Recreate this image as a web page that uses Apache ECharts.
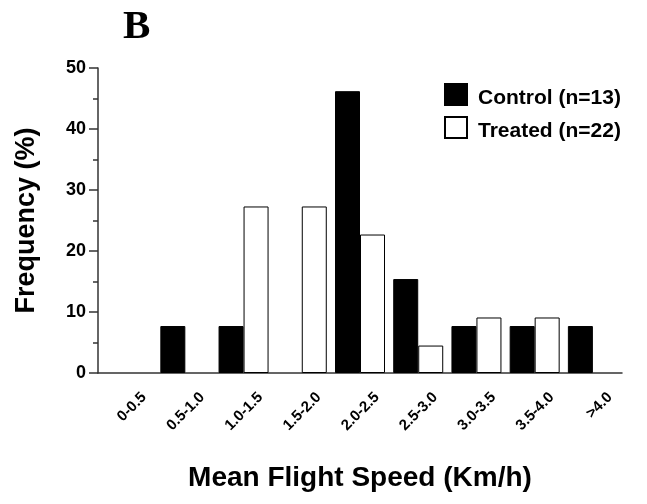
<!DOCTYPE html>
<html>
<head>
<meta charset="utf-8">
<script src="https://cdn.jsdelivr.net/npm/echarts@6/dist/echarts.min.js"></script>
<style>
  html, body { margin: 0; padding: 0; background: #fff; }
  #chart { width: 647px; height: 504px; }
</style>
</head>
<body>
<div id="chart"></div>
<script>
// speed classes (Km/h)
const speedBins = ['0-0.5', '0.5-1.0', '1.0-1.5', '1.5-2.0', '2.0-2.5', '2.5-3.0', '3.0-3.5', '3.5-4.0', '>4.0'];
// frequency in %
const controlFreq = [0, 7.7, 7.7, 0, 46.2, 15.4, 7.7, 7.7, 7.7];
const treatedFreq = [0, 0, 27.3, 27.3, 22.7, 4.5, 9.1, 9.1, 0];
const yTicks = [0, 10, 20, 30, 40, 50];

const font = '"Liberation Sans", Arial, sans-serif';
const chart = echarts.init(document.getElementById('chart'));

// empty bins draw nothing
const bars = arr => arr.map(v => (v === 0 ? null : v));

chart.setOption({
  animation: false,
  title: {
    text: 'B',
    left: 118,
    top: 2,
    textStyle: { fontFamily: '"Liberation Serif", "Times New Roman", serif', fontWeight: 'bold', fontSize: 41, color: '#000' }
  },
  legend: {
    orient: 'vertical',
    left: 444,
    top: 83,
    padding: 0,
    icon: 'rect',
    itemWidth: 22,
    itemHeight: 21,
    itemGap: 7,
    formatter: name => '{t|' + name + '}',
    textStyle: {
      fontFamily: font, fontWeight: 'bold', fontSize: 21, color: '#000',
      rich: { t: { fontFamily: font, fontWeight: 'bold', fontSize: 21, color: '#000', padding: [8, 0, 0, 6] } }
    },
    data: ['Control (n=13)', 'Treated (n=22)']
  },
  grid: { left: 98, right: 25, top: 68, bottom: 131 },
  xAxis: {
    type: 'category',
    data: speedBins,
    name: 'Mean Flight Speed (Km/h)',
    nameLocation: 'middle',
    nameGap: 91,
    nameTextStyle: { fontFamily: font, fontWeight: 'bold', fontSize: 28, color: '#000' },
    axisLine: { lineStyle: { color: '#333', width: 1.5 } },
    axisTick: { alignWithLabel: true, length: 8, lineStyle: { color: '#333', width: 1.5 } },
    axisLabel: {
      interval: 0, rotate: 45, margin: 5, verticalAlign: 'top', lineHeight: 48,
      fontFamily: font, fontWeight: 'bold', fontSize: 15, color: '#000'
    }
  },
  yAxis: {
    type: 'value',
    min: yTicks[0],
    max: yTicks[yTicks.length - 1],
    interval: 10,
    name: 'Frequency (%)',
    nameLocation: 'middle',
    nameRotate: 90,
    nameGap: 58,
    nameTextStyle: { fontFamily: font, fontWeight: 'bold', fontSize: 27, color: '#000' },
    splitLine: { show: false },
    axisLine: { show: true, lineStyle: { color: '#333', width: 1.5 } },
    axisTick: { show: true, length: 9, lineStyle: { color: '#333', width: 1.5 } },
    minorTick: { show: true, splitNumber: 2, length: 5, lineStyle: { color: '#333', width: 1.5 } },
    axisLabel: { margin: 12, fontFamily: font, fontWeight: 'bold', fontSize: 18, color: '#000' }
  },
  series: [
    {
      name: 'Control (n=13)',
      type: 'bar',
      data: bars(controlFreq),
      barWidth: 25,
      barGap: '0%',
      itemStyle: { color: '#000', borderColor: '#000', borderWidth: 1 }
    },
    {
      name: 'Treated (n=22)',
      type: 'bar',
      data: bars(treatedFreq),
      barWidth: 25,
      itemStyle: { color: '#fff', borderColor: '#000', borderWidth: 1 }
    }
  ]
});
</script>
</body>
</html>
